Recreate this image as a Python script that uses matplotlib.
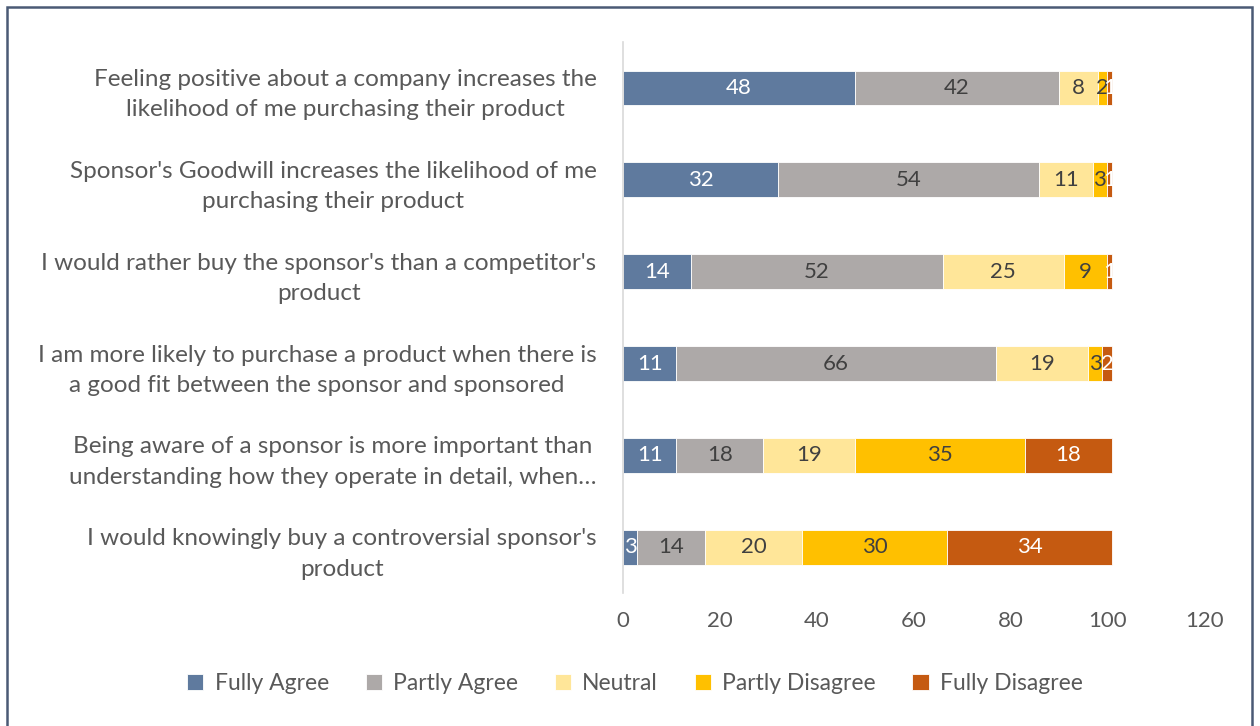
import matplotlib
matplotlib.use('Agg')
import matplotlib.pyplot as plt
from matplotlib.patches import Rectangle
import numpy as np

plt.rcParams['font.family'] = ['Lato', 'DejaVu Sans']

# survey statements, top to bottom
statements = [
    "Feeling positive about a company increases the\nlikelihood of me purchasing their product",
    "Sponsor's Goodwill increases the likelihood of me\npurchasing their product",
    "I would rather buy the sponsor's than a competitor's\nproduct",
    "I am more likely to purchase a product when there is\na good fit between the sponsor and sponsored",
    "Being aware of a sponsor is more important than\nunderstanding how they operate in detail, when\u2026",
    "I would knowingly buy a controversial sponsor's\nproduct",
]
responses = ["Fully Agree", "Partly Agree", "Neutral", "Partly Disagree", "Fully Disagree"]

fully_agree = [48, 32, 14, 11, 11, 3]
partly_agree = [42, 54, 52, 66, 18, 14]
neutral = [8, 11, 25, 19, 19, 20]
partly_disagree = [2, 3, 9, 3, 35, 30]
fully_disagree = [1, 1, 1, 2, 18, 34]

series = [fully_agree, partly_agree, neutral, partly_disagree, fully_disagree]
colors = ['#5F7A9E', '#ADA9A8', '#FFE699', '#FFC000', '#C55A11']
label_colors = ['white', '#404040', '#404040', '#404040', 'white']

fig = plt.figure(figsize=(12.6, 7.26), dpi=100)
ax = fig.add_axes([0.4944, 0.183, 0.4612, 0.759])

y = np.arange(len(statements))
left = np.zeros(len(statements))
for vals, name, col, tcol in zip(series, responses, colors, label_colors):
    bars = ax.barh(y, vals, left=left, height=0.38, color=col, label=name,
                   edgecolor='white', linewidth=0.6)
    ax.bar_label(bars, labels=[str(v) for v in vals], label_type='center',
                 color=tcol, fontsize=16)
    left += np.array(vals)

ax.set_xlim(0, 120)
ax.set_ylim(len(statements) - 0.5, -0.5)
ax.set_xticks(range(0, 121, 20))
ax.set_yticks(y)
ax.set_yticklabels(statements, multialignment='center', linespacing=1.55)
ax.tick_params(axis='both', length=0, labelcolor='#595959')
ax.tick_params(axis='x', pad=13, labelsize=16)
ax.tick_params(axis='y', pad=19, labelsize=17.5)

for side in ['top', 'right', 'bottom']:
    ax.spines[side].set_visible(False)
ax.spines['left'].set_color('#D9D9D9')
ax.spines['left'].set_linewidth(1.2)

leg = fig.legend(loc='center', bbox_to_anchor=(0.504, 0.058), ncol=5, frameon=False,
                 fontsize=16.5, handlelength=0.7, handleheight=0.7, columnspacing=1.6,
                 handletextpad=0.5)
for t in leg.get_texts():
    t.set_color('#595959')

# outer frame
fig.patches.append(Rectangle((7 / 1260, -0.05), 1245 / 1260, 1 - 7 / 726 + 0.05,
                             transform=fig.transFigure, fill=False,
                             edgecolor='#4A5A75', linewidth=1.8))

fig.savefig('out.png', dpi=100)
plt.close(fig)
